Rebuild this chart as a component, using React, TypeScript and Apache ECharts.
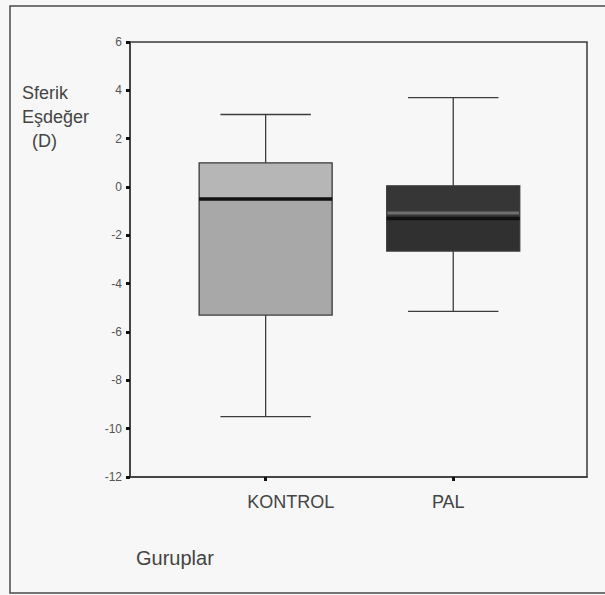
import React, { useEffect, useRef } from "react";
import * as echarts from "echarts";

// ---- data ----
const groups = ["KONTROL", "PAL"];
const groupPositions = [1, 2];
const whiskerLow = [-9.5, -5.15];
const quartile1 = [-5.3, -2.65];
const medians = [-0.5, -1.3];
const quartile3 = [1.0, 0.05];
const whiskerHigh = [3.0, 3.7];
const yMin = -12;
const yMax = 6;
const yInterval = 2;

// ---- styles (kept apart from data) ----
const BOX_WIDTH = 0.709; // in x-axis units
const CAP_WIDTH = 0.482;
const BOX_STYLES = [
  { upper: "#b6b6b6", lower: "#a8a8a8", band: null as string | null },
  { upper: "#363636", lower: "#303030", band: "#7e7e7e" },
];
const FONT = "'Liberation Sans', Arial, sans-serif";

export default function App() {
  const ref = useRef<HTMLDivElement>(null);

  useEffect(() => {
    if (!ref.current) return;
    const chart = echarts.init(ref.current, undefined, { renderer: "svg" });

    const seriesData = groups.map((_, i) => [
      groupPositions[i],
      whiskerLow[i],
      quartile1[i],
      medians[i],
      quartile3[i],
      whiskerHigh[i],
    ]);

    const renderItem = (params: any, api: any) => {
      const i = params.dataIndex;
      const x = api.value(0);
      const pt = (v: number) => api.coord([x, v]);
      const [cx, yLo] = pt(api.value(1));
      const yQ1 = pt(api.value(2))[1];
      const yMed = pt(api.value(3))[1];
      const yQ3 = pt(api.value(4))[1];
      const yHi = pt(api.value(5))[1];
      const boxW = api.size([BOX_WIDTH, 0])[0];
      const capW = api.size([CAP_WIDTH, 0])[0];
      const st = BOX_STYLES[i];
      const ls = { stroke: "#3c3c3c", lineWidth: 1.3 };
      const children: any[] = [
        { type: "line", shape: { x1: cx, y1: yHi, x2: cx, y2: yQ3 }, style: ls },
        { type: "line", shape: { x1: cx, y1: yQ1, x2: cx, y2: yLo }, style: ls },
        { type: "line", shape: { x1: cx - capW / 2, y1: yHi, x2: cx + capW / 2, y2: yHi }, style: ls },
        { type: "line", shape: { x1: cx - capW / 2, y1: yLo, x2: cx + capW / 2, y2: yLo }, style: ls },
        {
          type: "rect",
          shape: { x: cx - boxW / 2, y: yQ3, width: boxW, height: yMed - yQ3 },
          style: { fill: st.upper },
        },
        {
          type: "rect",
          shape: { x: cx - boxW / 2, y: yMed, width: boxW, height: yQ1 - yMed },
          style: { fill: st.lower },
        },
      ];
      if (st.band) {
        children.push({
          type: "rect",
          shape: { x: cx - boxW / 2, y: yMed - 7, width: boxW, height: 3 },
          style: { fill: st.band, opacity: 0.8 },
        });
      }
      children.push(
        {
          type: "rect",
          shape: { x: cx - boxW / 2, y: yQ3, width: boxW, height: yQ1 - yQ3 },
          style: { fill: "none", stroke: "#3a3a3a", lineWidth: 1.3 },
        },
        {
          type: "line",
          shape: { x1: cx - boxW / 2, y1: yMed, x2: cx + boxW / 2, y2: yMed },
          style: { stroke: "#111", lineWidth: 3.5 },
        }
      );
      return { type: "group", children };
    };

    chart.setOption({
      animation: false,
      backgroundColor: "#f7f7f7",
      grid: {
        left: 130,
        right: 18,
        top: 42,
        bottom: 118,
        show: true,
        borderColor: "#3a3a3a",
        borderWidth: 1.5,
        backgroundColor: "transparent",
      },
      xAxis: {
        type: "value",
        min: 0.277,
        max: 2.713,
        splitLine: { show: false },
        axisLine: { show: true, onZero: false, lineStyle: { color: "#3a3a3a", width: 1.5 } },
        axisTick: {
          show: true,
          customValues: groupPositions,
          length: 4,
          lineStyle: { color: "#111", width: 3 },
        },
        axisLabel: {
          customValues: groupPositions,
          margin: 16,
          formatter: (v: number) => {
            const idx = groupPositions.indexOf(v);
            if (idx < 0) return "";
            return idx === 0 ? `{k|${groups[idx]}}` : `{p|${groups[idx]}}`;
          },
          rich: {
            k: { fontSize: 18, fontFamily: FONT, color: "#444", padding: [0, 0, 0, 50] },
            p: { fontSize: 18, fontFamily: FONT, color: "#444", padding: [0, 10, 0, 0] },
          },
        },
      },
      yAxis: {
        type: "value",
        min: yMin,
        max: yMax,
        interval: yInterval,
        splitLine: { show: false },
        axisLine: { show: true, onZero: false, lineStyle: { color: "#3a3a3a", width: 1.5 } },
        axisTick: { show: true, length: 4, lineStyle: { color: "#111", width: 3 } },
        axisLabel: { fontSize: 12, fontFamily: FONT, color: "#555", margin: 8 },
      },
      graphic: [
        {
          type: "rect",
          z: -10,
          shape: { x: 10, y: 6, width: 640, height: 587 },
          style: { fill: "none", stroke: "#4a4a4a", lineWidth: 1.5 },
          silent: true,
        },
        {
          type: "text",
          left: 22,
          top: 81,
          style: {
            text: "Sferik\nEşdeğer\n  (D)",
            fontSize: 18,
            lineHeight: 24,
            fontFamily: FONT,
            fill: "#444",
          },
        },
        {
          type: "text",
          left: 136,
          top: 548,
          style: { text: "Guruplar", fontSize: 20, fontFamily: FONT, fill: "#444" },
        },
      ],
      series: [
        {
          type: "custom",
          data: seriesData,
          encode: { x: 0, y: [1, 2, 3, 4, 5] },
          renderItem,
        },
      ],
    });

    return () => chart.dispose();
  }, []);

  return (
    <div
      ref={ref}
      style={{ position: "fixed", left: 0, top: 0, width: 605, height: 595 }}
    />
  );
}
